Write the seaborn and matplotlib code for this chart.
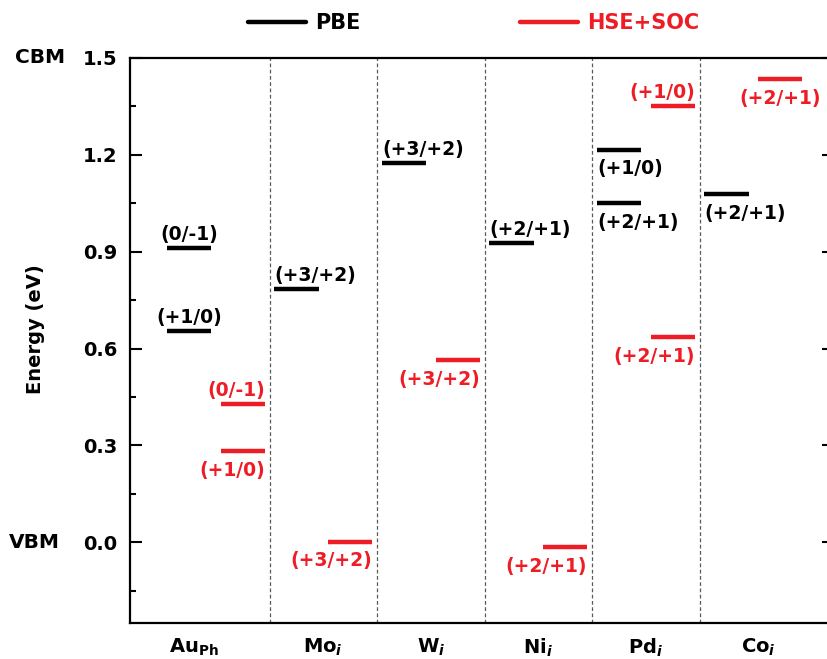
import pandas as pd
import seaborn as sns
import matplotlib
matplotlib.use('Agg')
from matplotlib import pyplot as plt
from matplotlib.lines import Line2D
from matplotlib.ticker import MultipleLocator, FormatStrFormatter
import matplotlib.transforms as mtransforms

# defect sites (x categories)
sites = [r'Au$_{\mathrm{Ph}}$', r'Mo$_{i}$', r'W$_{i}$', r'Ni$_{i}$', r'Pd$_{i}$', r'Co$_{i}$']
site_label_pos = [-0.2, 1, 2, 3, 4, 5.05]

# PBE transition levels (eV)
pbe_site = [0, 0, 1, 2, 3, 4, 4, 5]
pbe_energy = [0.912, 0.654, 0.783, 1.174, 0.927, 1.216, 1.051, 1.079]
pbe_label = ['(0/-1)', '(+1/0)', '(+3/+2)', '(+3/+2)', '(+2/+1)', '(+1/0)', '(+2/+1)', '(+2/+1)']

# HSE+SOC transition levels (eV)
hse_site = [0, 0, 1, 2, 3, 4, 4, 5]
hse_energy = [0.428, 0.282, 0.002, 0.565, -0.016, 1.350, 0.636, 1.435]
hse_label = ['(0/-1)', '(+1/0)', '(+3/+2)', '(+3/+2)', '(+2/+1)', '(+1/0)', '(+2/+1)', '(+2/+1)']

# where the text goes relative to its level
pbe_place = ['above-center', 'above-center', 'above-left', 'above-left', 'above-left',
             'below-left', 'below-left', 'below-left']
hse_place = ['above-right', 'below-right', 'below-right', 'below-right', 'below-right',
             'above-right', 'below-right', 'below-center']

RED = '#ee1c25'
half = 0.205
shift = {'PBE': -0.25, 'HSE+SOC': 0.25}

sns.set_style('ticks')
plt.rcParams['font.family'] = ['DejaVu Sans']
plt.rcParams['font.weight'] = 'bold'
plt.rcParams['text.color'] = 'black'
plt.rcParams['axes.labelcolor'] = 'black'
plt.rcParams['axes.edgecolor'] = 'black'
plt.rcParams['xtick.color'] = 'black'
plt.rcParams['ytick.color'] = 'black'
plt.rcParams['mathtext.fontset'] = 'custom'
plt.rcParams['mathtext.rm'] = 'DejaVu Sans:bold'
plt.rcParams['mathtext.it'] = 'DejaVu Sans:italic:bold'
plt.rcParams['mathtext.bf'] = 'DejaVu Sans:bold'

rows = []
for method, s_list, e_list in [('PBE', pbe_site, pbe_energy), ('HSE+SOC', hse_site, hse_energy)]:
    for k in range(len(s_list)):
        c = s_list[k] + shift[method]
        for dx in (-half, half):
            rows.append({'x': c + dx, 'E': e_list[k], 'method': method, 'id': method + str(k)})
df = pd.DataFrame(rows)

fig = plt.figure(figsize=(8.28, 6.59), dpi=100)
ax = fig.add_axes([0.157, 0.0546, 0.8502, 0.8574])

# section dividers
for i in range(len(sites) - 1):
    ax.axvline(i + 0.5, color='#5a5a5a', lw=0.9, ls=(0, (3, 2)), zorder=1)

sns.lineplot(data=df, x='x', y='E', hue='method', units='id', estimator=None, sort=False,
             palette={'PBE': 'black', 'HSE+SOC': RED}, lw=3.2, legend=False,
             solid_capstyle='butt', ax=ax, zorder=3)

def put_labels(method, s_list, e_list, labels, places, color):
    for k in range(len(s_list)):
        c = s_list[k] + shift[method]
        vpos, hpos = places[k].split('-')
        if hpos == 'left':
            xx, ha = c - half, 'left'
        elif hpos == 'right':
            xx, ha = c + half, 'right'
        else:
            xx, ha = c, 'center'
        if vpos == 'above':
            dy, va = 3, 'bottom'
        else:
            dy, va = -7, 'top'
        ax.annotate(labels[k], xy=(xx, e_list[k]), xytext=(0, dy), textcoords='offset points',
                    ha=ha, va=va, fontsize=13.5, fontweight='bold', color=color)

put_labels('PBE', pbe_site, pbe_energy, pbe_label, pbe_place, 'black')
put_labels('HSE+SOC', hse_site, hse_energy, hse_label, hse_place, RED)

ax.set_xlim(-0.799, 5.75)
ax.set_ylim(-0.25, 1.5)
ax.yaxis.set_major_locator(MultipleLocator(0.3))
ax.yaxis.set_minor_locator(MultipleLocator(0.15))
ax.yaxis.set_major_formatter(FormatStrFormatter('%.1f'))
ax.set_xticks(site_label_pos)
ax.set_xticklabels(sites)
ax.tick_params(axis='x', length=0, pad=10, labelsize=14)
ax.tick_params(axis='y', which='major', direction='in', length=8.5, width=1.5,
               right=True, pad=9, labelsize=14)
ax.tick_params(axis='y', which='minor', direction='in', length=4.5, width=1.5, right=True)
for sp in ax.spines.values():
    sp.set_linewidth(1.6)
ax.set_xlabel('')
ax.set_ylabel('Energy (eV)', fontsize=14, fontweight='bold')
ax.yaxis.set_label_coords(-0.121, 0.52)

trans = mtransforms.blended_transform_factory(ax.transAxes, ax.transData)
ax.text(-0.1277, 1.5, 'CBM', transform=trans, ha='center', va='center', fontsize=14.5, fontweight='bold')
ax.text(-0.1355, 0.0, 'VBM', transform=trans, ha='center', va='center', fontsize=14.5, fontweight='bold')

handles = [Line2D([], [], color='black', lw=3.2), Line2D([], [], color=RED, lw=3.2)]
leg = fig.legend(handles, ['PBE', 'HSE+SOC'], ncol=2, loc='center', bbox_to_anchor=(0.572, 0.965),
                 frameon=False, fontsize=15, handlelength=2.75, handletextpad=0.43, columnspacing=7.7)
for txt, col in zip(leg.get_texts(), ['black', RED]):
    txt.set_color(col)
    txt.set_fontweight('bold')

plt.savefig('out.png', dpi=100)
